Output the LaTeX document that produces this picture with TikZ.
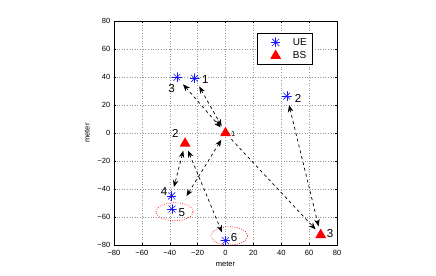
\documentclass[tikz,border=0pt]{standalone}
\usepackage{fontspec}
\setmainfont{Liberation Sans}
\usetikzlibrary{arrows.meta, shapes.geometric}
\definecolor{UB}{RGB}{20,20,255}
\definecolor{BR}{RGB}{255,0,0}
\definecolor{GL}{RGB}{150,150,150}

\begin{document}
\begin{tikzpicture}[
  x=0.035cm, y=0.035cm,
  ue/.style={circle, inner sep=0pt, minimum size=10pt,
             path picture={\foreach \a in {0,45,90,135}
               \draw[UB, line width=0.6pt]
                 ([shift={(\a:5pt)}]path picture bounding box.center) --
                 ([shift={(\a+180:5pt)}]path picture bounding box.center);}},
  bs/.style={regular polygon, regular polygon sides=3, fill=BR,
             inner sep=0pt, minimum size=12.5pt},
  num/.style={font=\fontsize{11.5}{12}\selectfont, inner sep=0pt},
  ticklbl/.style={font=\fontsize{7.5}{8}\selectfont, inner sep=0pt},
  gridln/.style={draw=GL, line width=0.4pt, dash pattern=on 0.6pt off 2pt},
  grp/.style={draw=BR, line width=0.7pt, dash pattern=on 0.7pt off 1.6pt},
  link/.style={dashed, line width=0.7pt, shorten <=4pt, shorten >=4pt},
  dlink/.style={link, {Stealth[length=7pt,width=5.5pt]}-{Stealth[length=7pt,width=5.5pt]}},
  slink/.style={link, -{Stealth[length=7pt,width=5.5pt]}}
]
\useasboundingbox (0,0) rectangle (436,276);
\begin{scope}[shift={(225.5,143)}, x=0.04879cm, y=0.049cm]

% Grid and ticks
\foreach \g in {-60,-40,...,60} {
  \draw[gridln] (\g,-80) -- (\g,80);
  \draw[gridln] (-80,\g) -- (80,\g);
  \draw (\g,-80) -- ++(0,2pt);
  \draw (\g,80) -- ++(0,-2pt);
  \draw (-80,\g) -- ++(2pt,0);
  \draw (80,\g) -- ++(-2pt,0);
}
\draw[line width=0.5pt] (-80,-80) rectangle (80,80);

% Axis labels
\coordinate (xl) at (0,-80);
\coordinate (yl) at (-80,0);
\node[ticklbl, anchor=base, yshift=-21.7pt] (xlab) at (xl) {meter};
\node[ticklbl, xshift=-26.7pt] (ylab) at (yl) {\rotatebox{90}{meter}};

% Tick labels
\foreach \v/\t [count=\i] in {-80/−80,-60/−60,-40/−40,-20/−20,0/0,20/20,40/40,60/60,80/80} {
  \node[ticklbl, anchor=north] (xt\i) at ([yshift=-5pt]\v,-80) {\t};
  \node[ticklbl, anchor=east]  (yt\i) at ([xshift=-3.5pt]-80,\v) {\t};
}

% Groups
\draw[grp] (-36.5,-56.2) ellipse [x radius=13.4, y radius=6.4];
\draw[grp] (2.8,-73.5) ellipse [x radius=13.2, y radius=6.5];

% Users
\node[ue] (ue1) at (-22.1,39) {};
\node[ue] (ue2) at (44,26.4) {};
\node[ue] (ue3) at (-34.8,39.8) {};
\node[ue] (ue4) at (-38.6,-45) {};
\node[ue] (ue5) at (-38.4,-54.3) {};
\node[ue] (ue6) at (0,-77) {};
\coordinate (g5) at (-29.5,-47.5);

% Base stations
\node[bs] (bs1) at (0,0) {};
\node[bs] (bs2) at (-29,-7.5) {};
\node[bs] (bs3) at (68.3,-72.8) {};

% Labels
\node[num] (n1) at (-14.5,38.4) {1};
\node[num] (n2) at (52,24.5) {2};
\node[num] (n3) at (-38.6,31.9) {3};
\node[num] (n4) at (-44,-42) {4};
\node[num] (n5) at (-31.4,-57) {5};
\node[num] (n6) at (6.1,-74.5) {6};
\node[num, font=\fontsize{7.5}{8}\selectfont] (b1) at (5.6,-0.3) {1};
\node[num] (b2) at (-36,0) {2};
\node[num] (b3) at (75,-71.6) {3};

% Links
\draw[dlink] (ue1) -- (bs1);
\draw[dlink] (ue3) -- (bs1);
\draw[dlink] (g5) -- (bs1);
\draw[slink] (bs1) -- (bs3);
\draw[dlink] (ue2) -- (bs3);
\draw[dlink] (bs2) -- (ue4);
\draw[dlink] (bs2) -- (ue6);

% Legend
\draw[line width=0.5pt, fill=white] (22.5,49.3) rectangle (62,71.2);
\node[ue] (lgue) at (36,64.8) {};
\node[bs] (lgbs) at (36,55.2) {};
\node[num, font=\fontsize{10}{10}\selectfont, anchor=west] (lgt1) at (48.2,64.8) {UE};
\node[num, font=\fontsize{10}{10}\selectfont, anchor=west] (lgt2) at (48.2,55.7) {BS};

\end{scope}
\end{tikzpicture}
\end{document}
